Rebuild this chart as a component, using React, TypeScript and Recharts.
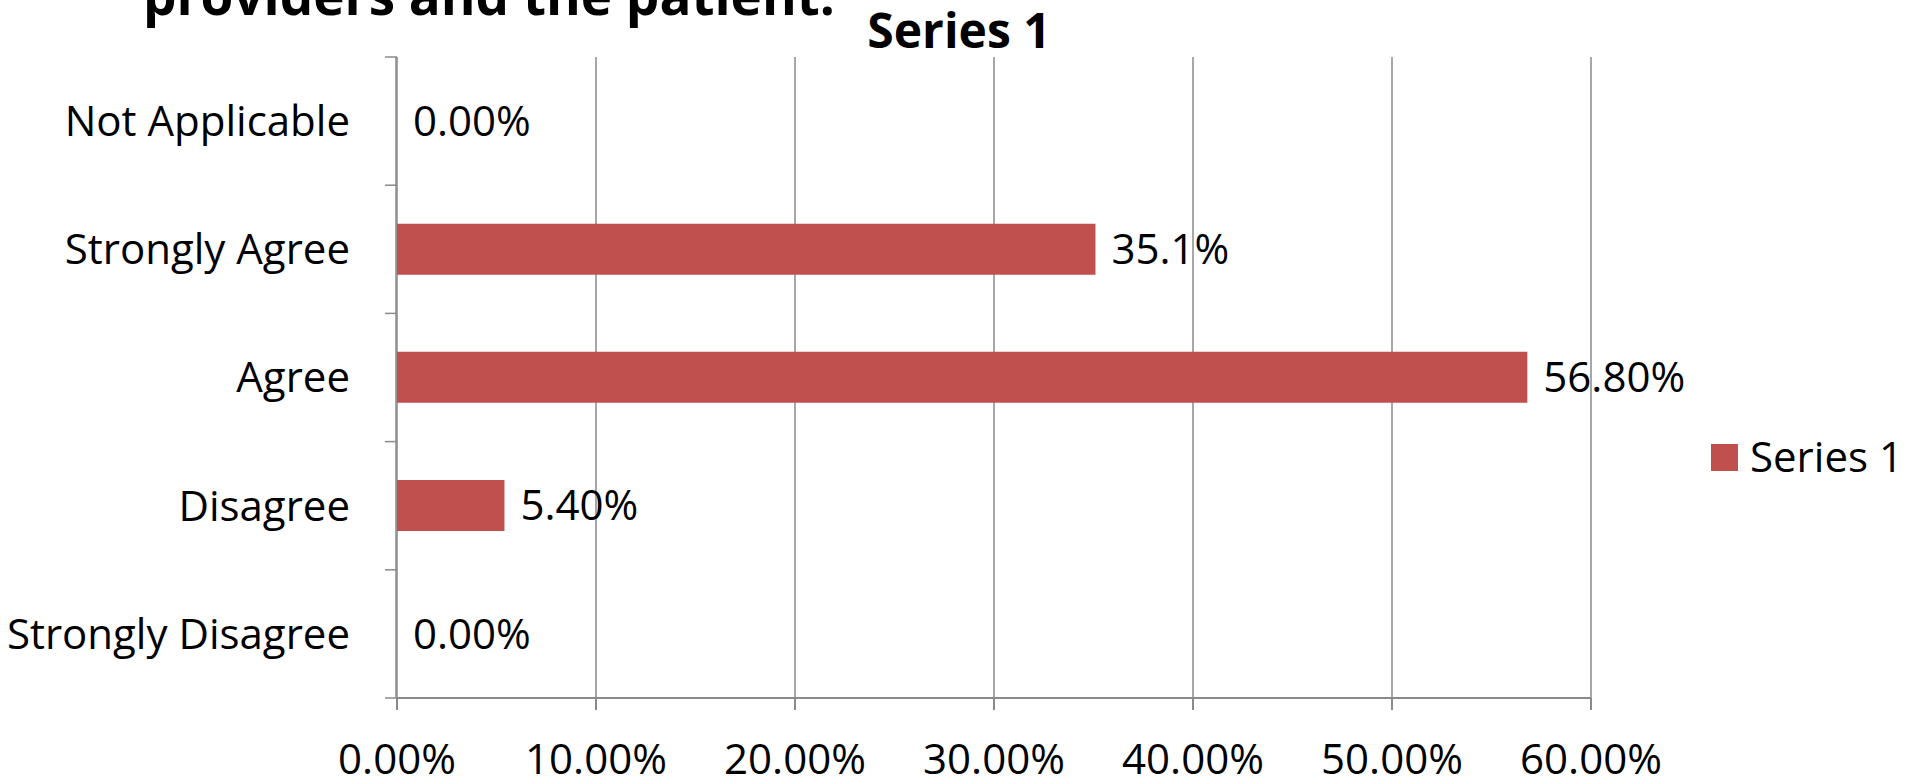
import { Bar, BarChart, CartesianGrid, LabelList, XAxis, YAxis } from 'recharts';

const categories = ['Not Applicable', 'Strongly Agree', 'Agree', 'Disagree', 'Strongly Disagree'];
const values = [0, 35.1, 56.8, 5.4, 0];
const valueLabels = ['0.00%', '35.1%', '56.80%', '5.40%', '0.00%'];
const xTicks = [0, 10, 20, 30, 40, 50, 60];
// tick marks between the five category bands (the side axis spans 0..4)
const bandEdges = [0, 0.8, 1.6, 2.4, 3.2, 4];

const FONT = '"Open Sans", sans-serif';
const BAR = '#C0504D';
const AXIS = '#8A8A8A';

const data = categories.map((category, i) => ({
  category,
  value: values[i],
  label: valueLabels[i],
}));

export default function App() {
  return (
    <div style={{ position: 'absolute', left: 0, top: 0, width: 1919, height: 780, background: '#fff', fontFamily: FONT }}>
      <BarChart
        layout="vertical"
        width={1919}
        height={780}
        data={data}
        margin={{ top: 57, right: 328, bottom: 0, left: 0 }}
        barCategoryGap="30%"
      >
        <CartesianGrid horizontal={false} stroke={AXIS} strokeWidth={1.5} />
        <XAxis
          type="number"
          domain={[0, 60]}
          ticks={xTicks}
          tickFormatter={(v: number) => `${v.toFixed(2)}%`}
          stroke={AXIS}
          strokeWidth={2}
          tickSize={12}
          tickMargin={34}
          height={82}
          tick={{ fill: '#000', fontSize: 42, fontFamily: FONT }}
        />
        <YAxis
          yAxisId="bands"
          type="number"
          domain={[0, 4]}
          allowDataOverflow
          allowDecimals
          ticks={bandEdges}
          interval={0}
          tickFormatter={() => ''}
          tick={{ fontSize: 1 }}
          tickSize={12}
          tickLine={{ stroke: AXIS, strokeWidth: 1.5 }}
          axisLine={false}
          width={1}
        />
        <YAxis
          yAxisId="labels"
          type="category"
          dataKey="category"
          width={396}
          tickSize={0}
          tickMargin={46}
          tickLine={false}
          axisLine={{ stroke: AXIS, strokeWidth: 1.5 }}
          tick={{ fill: '#000', fontSize: 42, fontFamily: FONT }}
        />
        <Bar yAxisId="labels" dataKey="value" fill={BAR} minPointSize={0.01} isAnimationActive={false}>
          <LabelList
            dataKey="label"
            position="right"
            offset={16}
            fill="#000"
            fontSize={42}
            fontFamily={FONT}
          />
        </Bar>
      </BarChart>
      <svg
        width={1919}
        height={780}
        style={{ position: 'absolute', left: 0, top: 0, pointerEvents: 'none' }}
      >
        <text x={143} y={15} fontSize={53} fontWeight="bold" fontFamily={FONT} fill="#000">
          providers and the patient.
        </text>
        <text x={959} y={48} fontSize={48} fontWeight="bold" fontFamily={FONT} fill="#000" textAnchor="middle">
          Series 1
        </text>
        <rect x={1711} y={444} width={27} height={27} fill={BAR} />
        <text x={1750} y={472} fontSize={42} fontFamily={FONT} fill="#000">
          Series 1
        </text>
      </svg>
    </div>
  );
}
